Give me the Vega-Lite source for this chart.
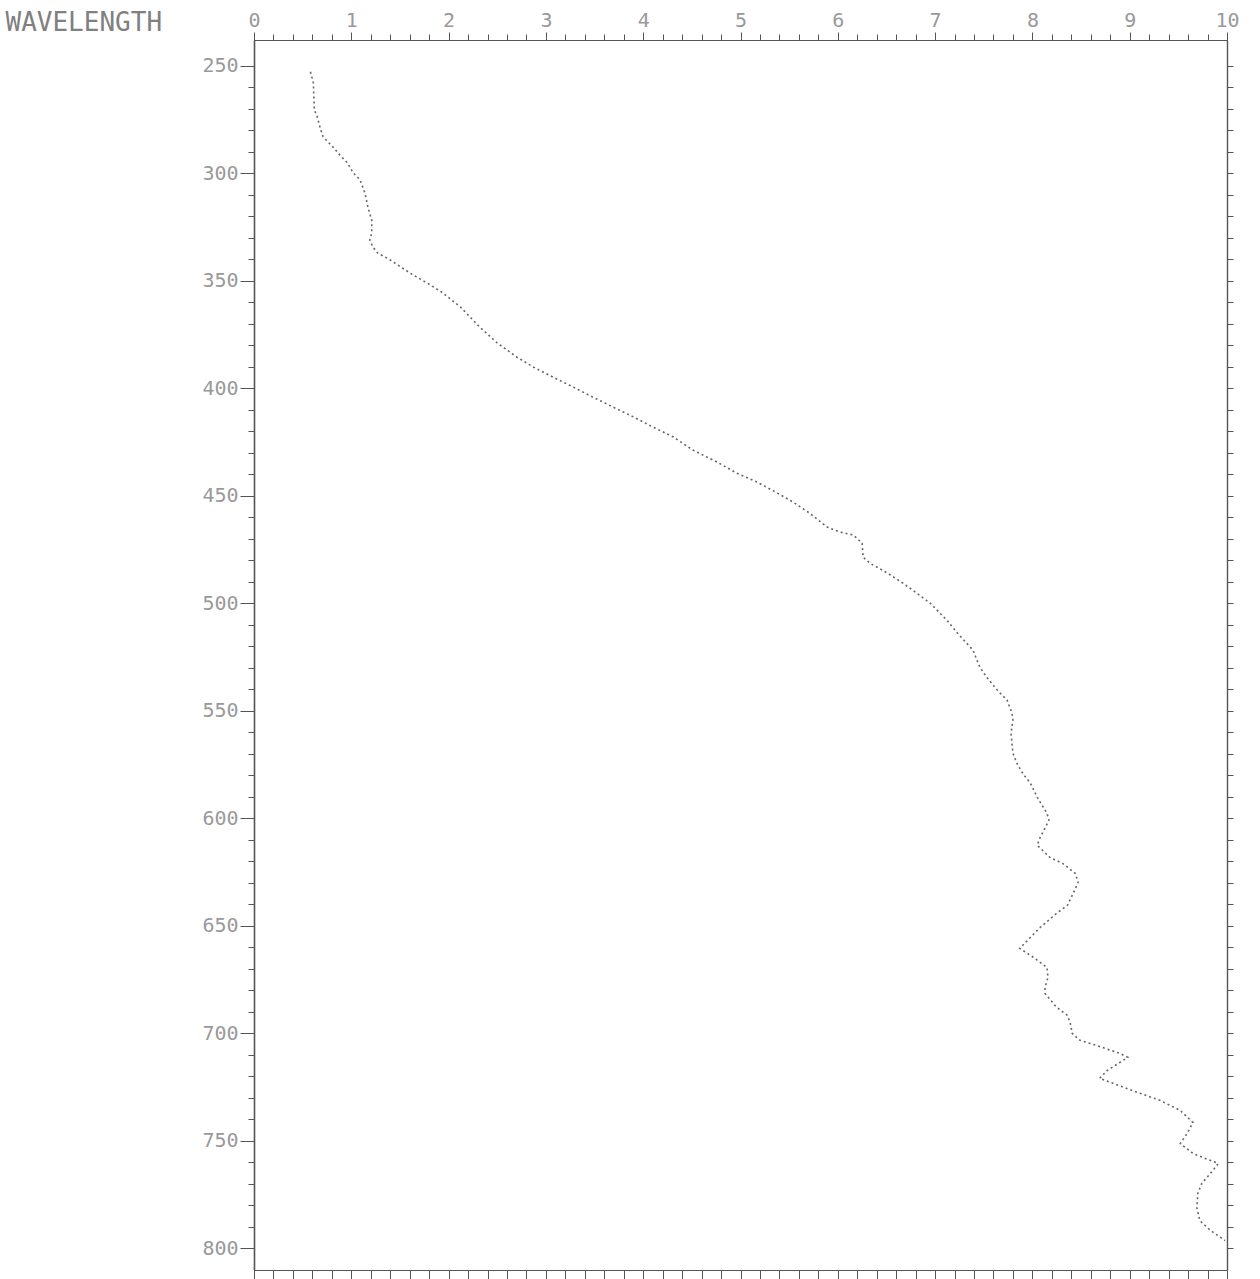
{
  "$schema": "https://vega.github.io/schema/vega-lite/v6.json",
  "width": 973,
  "height": 1230,
  "autosize": {"type": "none"},
  "padding": {"left": 254, "top": 40, "right": 33, "bottom": 9},
  "background": "white",
  "config": {"view": {"stroke": null}, "axis": {"grid": false, "domainColor": "#555", "tickColor": "#555", "labelColor": "#999999", "labelFont": "DejaVu Sans Mono", "labelFontSize": 20, "title": null}},
  "data": {"values": [
    {"w": 252.8, "v": 0.58}, {"w": 257.9, "v": 0.61}, {"w": 270.5, "v": 0.62}, {"w": 273.7, "v": 0.65},
    {"w": 278.9, "v": 0.68}, {"w": 283, "v": 0.71}, {"w": 287.7, "v": 0.81}, {"w": 291.4, "v": 0.88},
    {"w": 295.1, "v": 0.96}, {"w": 299.8, "v": 1.02}, {"w": 303, "v": 1.09}, {"w": 309.1, "v": 1.14},
    {"w": 315.6, "v": 1.17}, {"w": 321.7, "v": 1.21}, {"w": 327.7, "v": 1.21}, {"w": 331, "v": 1.19},
    {"w": 334.2, "v": 1.22}, {"w": 337, "v": 1.27}, {"w": 340.3, "v": 1.40}, {"w": 346.3, "v": 1.60},
    {"w": 351, "v": 1.78}, {"w": 355.6, "v": 1.94}, {"w": 362.1, "v": 2.12}, {"w": 371.5, "v": 2.32},
    {"w": 378.9, "v": 2.50}, {"w": 385.4, "v": 2.70}, {"w": 390.1, "v": 2.87}, {"w": 394.7, "v": 3.07},
    {"w": 399.4, "v": 3.28}, {"w": 404, "v": 3.48}, {"w": 408.7, "v": 3.69}, {"w": 413.3, "v": 3.90},
    {"w": 418, "v": 4.10}, {"w": 422.6, "v": 4.31}, {"w": 428.7, "v": 4.51}, {"w": 434.3, "v": 4.76},
    {"w": 439.4, "v": 4.96}, {"w": 443.6, "v": 5.17}, {"w": 448.7, "v": 5.38}, {"w": 452.9, "v": 5.54},
    {"w": 458, "v": 5.71}, {"w": 464.5, "v": 5.89}, {"w": 466.8, "v": 6.02}, {"w": 468.2, "v": 6.16},
    {"w": 472, "v": 6.25}, {"w": 478.5, "v": 6.26}, {"w": 481.3, "v": 6.33}, {"w": 485.9, "v": 6.51},
    {"w": 490.6, "v": 6.67}, {"w": 495.2, "v": 6.81}, {"w": 499.9, "v": 6.95}, {"w": 507.8, "v": 7.12},
    {"w": 513.8, "v": 7.23}, {"w": 521.8, "v": 7.39}, {"w": 529.7, "v": 7.46}, {"w": 534.3, "v": 7.53},
    {"w": 540.4, "v": 7.64}, {"w": 545, "v": 7.74}, {"w": 551, "v": 7.79}, {"w": 554.3, "v": 7.80},
    {"w": 560.4, "v": 7.78}, {"w": 569.7, "v": 7.80}, {"w": 574.3, "v": 7.84}, {"w": 579, "v": 7.90},
    {"w": 583.6, "v": 7.98}, {"w": 590.2, "v": 8.05}, {"w": 597.6, "v": 8.15}, {"w": 600.9, "v": 8.17},
    {"w": 608.8, "v": 8.08}, {"w": 612.5, "v": 8.05}, {"w": 618.1, "v": 8.18}, {"w": 620.9, "v": 8.31},
    {"w": 625.5, "v": 8.44}, {"w": 629.7, "v": 8.47}, {"w": 634.8, "v": 8.42}, {"w": 640.4, "v": 8.36},
    {"w": 644.1, "v": 8.25}, {"w": 650.7, "v": 8.08}, {"w": 655.3, "v": 7.98}, {"w": 660.4, "v": 7.87},
    {"w": 664.6, "v": 8.01}, {"w": 669.3, "v": 8.15}, {"w": 673.9, "v": 8.16}, {"w": 678.6, "v": 8.13},
    {"w": 681.4, "v": 8.13}, {"w": 687.9, "v": 8.25}, {"w": 691.6, "v": 8.36}, {"w": 695.3, "v": 8.39},
    {"w": 700, "v": 8.41}, {"w": 703.2, "v": 8.49}, {"w": 705.6, "v": 8.66}, {"w": 709.3, "v": 8.90},
    {"w": 711.1, "v": 8.98}, {"w": 717.2, "v": 8.77}, {"w": 720.9, "v": 8.69}, {"w": 723.2, "v": 8.83},
    {"w": 727.4, "v": 9.08}, {"w": 731.1, "v": 9.31}, {"w": 735.8, "v": 9.52}, {"w": 741.4, "v": 9.65},
    {"w": 746.5, "v": 9.59}, {"w": 751.2, "v": 9.52}, {"w": 755.8, "v": 9.65}, {"w": 760.5, "v": 9.91},
    {"w": 765.1, "v": 9.83}, {"w": 769.8, "v": 9.74}, {"w": 774.4, "v": 9.70}, {"w": 781, "v": 9.69},
    {"w": 787, "v": 9.72}, {"w": 791.6, "v": 9.83}, {"w": 796.3, "v": 9.98}
  ]},
  "layer": [
    {
      "mark": {"type": "line", "color": "#666", "strokeWidth": 1.6, "strokeDash": [2, 3]},
      "encoding": {
        "x": {"field": "v", "type": "quantitative", "scale": {"domain": [0, 10], "nice": false, "zero": false},
          "axis": {"orient": "top", "values": [0, 1, 2, 3, 4, 5, 6, 7, 8, 9, 10], "tickSize": 8, "labelPadding": 2, "domainWidth": 1.2, "labelFlush": false, "labelFontSize": 20}},
        "y": {"field": "w", "type": "quantitative", "scale": {"domain": [238, 810], "nice": false, "zero": false, "reverse": true},
          "axis": {"orient": "left", "values": [250, 300, 350, 400, 450, 500, 550, 600, 650, 700, 750, 800], "tickSize": 14, "labelPadding": 2, "domainWidth": 1.6, "labelFontSize": 20,
            "title": "WAVELENGTH", "titleAngle": 0, "titleAlign": "left", "titleBaseline": "middle", "titleX": -249, "titleY": -18,
            "titleFont": "DejaVu Sans Mono", "titleFontSize": 26, "titleFontWeight": "normal", "titleColor": "#808080"}},
        "order": {"field": "w", "type": "quantitative"}
      }
    },
    {
      "mark": {"type": "point", "opacity": 0},
      "encoding": {
        "x": {"field": "v", "type": "quantitative", "scale": {"domain": [0, 10], "nice": false, "zero": false},
          "axis": {"orient": "top", "values": [0, 0.2, 0.4, 0.6, 0.8, 1, 1.2, 1.4, 1.6, 1.8, 2, 2.2, 2.4, 2.6, 2.8, 3, 3.2, 3.4, 3.6, 3.8, 4, 4.2, 4.4, 4.6, 4.8, 5, 5.2, 5.4, 5.6, 5.8, 6, 6.2, 6.4, 6.6, 6.8, 7, 7.2, 7.4, 7.6, 7.8, 8, 8.2, 8.4, 8.6, 8.8, 9, 9.2, 9.4, 9.6, 9.8, 10], "labels": false, "tickSize": 6}},
        "y": {"field": "w", "type": "quantitative", "scale": {"domain": [238, 810], "nice": false, "zero": false, "reverse": true},
          "axis": {"orient": "left", "values": [250, 260, 270, 280, 290, 300, 310, 320, 330, 340, 350, 360, 370, 380, 390, 400, 410, 420, 430, 440, 450, 460, 470, 480, 490, 500, 510, 520, 530, 540, 550, 560, 570, 580, 590, 600, 610, 620, 630, 640, 650, 660, 670, 680, 690, 700, 710, 720, 730, 740, 750, 760, 770, 780, 790, 800], "labels": false, "tickSize": 6}}
      }
    },
    {
      "mark": {"type": "point", "opacity": 0},
      "encoding": {
        "x": {"field": "v", "type": "quantitative", "scale": {"domain": [0, 10], "nice": false, "zero": false},
          "axis": {"orient": "bottom", "values": [0, 0.2, 0.4, 0.6, 0.8, 1, 1.2, 1.4, 1.6, 1.8, 2, 2.2, 2.4, 2.6, 2.8, 3, 3.2, 3.4, 3.6, 3.8, 4, 4.2, 4.4, 4.6, 4.8, 5, 5.2, 5.4, 5.6, 5.8, 6, 6.2, 6.4, 6.6, 6.8, 7, 7.2, 7.4, 7.6, 7.8, 8, 8.2, 8.4, 8.6, 8.8, 9, 9.2, 9.4, 9.6, 9.8, 10], "labels": false, "tickSize": 9, "domainWidth": 1.2}},
        "y": {"field": "w", "type": "quantitative", "scale": {"domain": [238, 810], "nice": false, "zero": false, "reverse": true},
          "axis": {"orient": "right", "values": [250, 260, 270, 280, 290, 300, 310, 320, 330, 340, 350, 360, 370, 380, 390, 400, 410, 420, 430, 440, 450, 460, 470, 480, 490, 500, 510, 520, 530, 540, 550, 560, 570, 580, 590, 600, 610, 620, 630, 640, 650, 660, 670, 680, 690, 700, 710, 720, 730, 740, 750, 760, 770, 780, 790, 800], "labels": false, "tickSize": 6, "domainWidth": 1.4}}
      }
    }
  ],
  "resolve": {"scale": {"x": "independent", "y": "independent"}}
}
